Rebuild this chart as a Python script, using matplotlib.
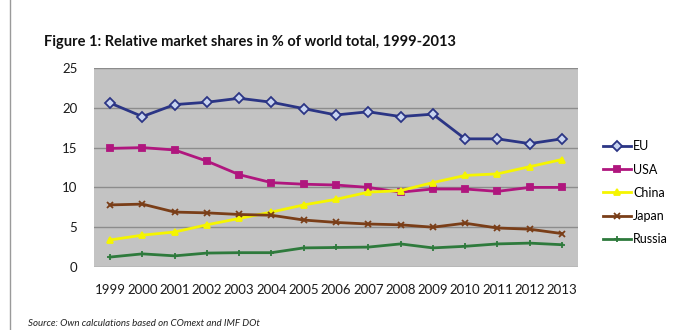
import matplotlib
matplotlib.use("Agg")
import matplotlib.pyplot as plt
from matplotlib.lines import Line2D

years = ["1999", "2000", "2001", "2002", "2003", "2004", "2005", "2006",
         "2007", "2008", "2009", "2010", "2011", "2012", "2013"]
eu = [20.6, 18.9, 20.4, 20.7, 21.2, 20.7, 19.9, 19.1, 19.5, 18.9, 19.2, 16.1, 16.1, 15.5, 16.1]
usa = [14.9, 15.0, 14.7, 13.3, 11.6, 10.6, 10.4, 10.3, 10.0, 9.4, 9.8, 9.8, 9.5, 10.0, 10.0]
china = [3.4, 4.0, 4.4, 5.3, 6.1, 6.9, 7.8, 8.5, 9.4, 9.6, 10.6, 11.5, 11.7, 12.6, 13.5]
japan = [7.8, 7.9, 6.9, 6.8, 6.6, 6.5, 5.9, 5.6, 5.4, 5.3, 5.0, 5.5, 4.9, 4.75, 4.2]
russia = [1.25, 1.65, 1.4, 1.75, 1.8, 1.8, 2.4, 2.45, 2.5, 2.9, 2.4, 2.6, 2.9, 3.0, 2.8]

plt.rcParams['font.family'] = ['Lato', 'DejaVu Sans']

fig = plt.figure(figsize=(6.81, 3.30), dpi=100)
fig.patch.set_facecolor("white")
ax = fig.add_axes([94 / 681, 1 - 267 / 330, 484 / 681, 199 / 330])
ax.set_facecolor("#c3c3c3")

x = list(range(len(years)))
series = [
    ("EU", eu, "#2b3585", "D", "#c8d4f0"),
    ("USA", usa, "#b0167e", "s", "#b0167e"),
    ("China", china, "#f5f500", "^", "#f5f500"),
    ("Japan", japan, "#7a3e18", "x", "#7a3e18"),
    ("Russia", russia, "#2e7a3c", "+", "#2e7a3c"),
]
for name, vals, col, mk, face in series:
    ax.plot(x, vals, color=col, lw=2, marker=mk, ms=5, mfc=face, mec=col,
            mew=1.3, label=name)

ax.set_xlim(-0.5, len(years) - 0.5)
ax.set_ylim(0, 25)
ax.set_yticks([0, 5, 10, 15, 20, 25])
ax.set_xticks(x)
ax.set_xticklabels(years)
ax.grid(axis="y", color="#8c8c8c", lw=1)
ax.set_axisbelow(True)
for s in ax.spines.values():
    s.set_visible(False)
ax.tick_params(axis="both", length=0, labelsize=9.5, colors="#1a1a1a")
ax.tick_params(axis="x", pad=12)
ax.tick_params(axis="y", pad=12)

# legend to the right of the plot
leg = fig.legend(loc="upper left", bbox_to_anchor=(592 / 681, 1 - 129 / 330),
                 frameon=False, fontsize=9, handlelength=2.2,
                 labelspacing=0.9, handletextpad=0.2)

fig.text(44 / 681, 1 - 42 / 330,
         "Figure 1: Relative market shares in % of world total, 1999-2013",
         fontsize=10.5, fontweight="bold", va="center", ha="left", color="#111111")
fig.text(28 / 681, 1 - 323 / 330,
         "Source: Own calculations based on COmext and IMF DOt",
         fontsize=7, style="italic", va="center", ha="left", color="#222222")
fig.add_artist(Line2D([10 / 681, 10 / 681], [0, 1], color="#9a9a9a", lw=1))

fig.savefig("out.png", dpi=100)
